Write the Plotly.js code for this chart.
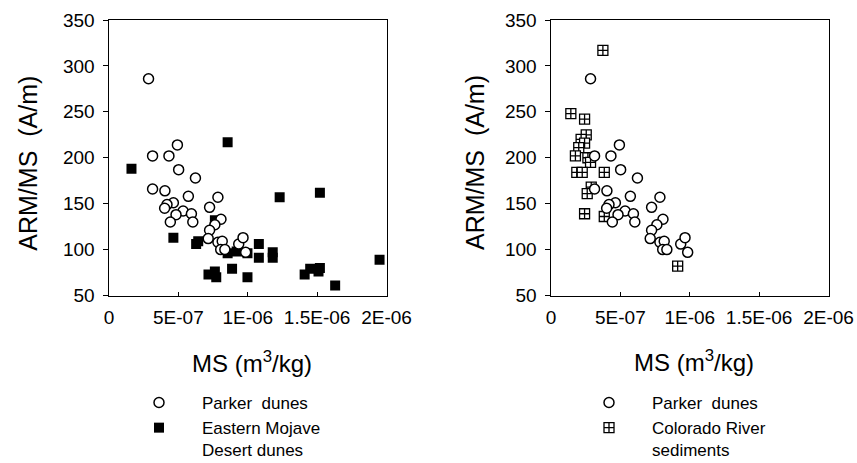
<!DOCTYPE html>
<html>
<head>
<meta charset="utf-8">
<script src="https://cdn.plot.ly/plotly-3.0.1.min.js"></script>
<style>html,body{margin:0;padding:0;background:#fff;}#chart{width:857px;height:463px;}</style>
</head>
<body>
<div id="chart"></div>
<script>
// Parker dunes (shown in both panels)
const parkerMS = [2.85e-7, 3.14e-7, 4.32e-7, 4.93e-7, 5.02e-7, 6.23e-7, 3.14e-7, 4.03e-7, 5.72e-7, 7.85e-7,
  7.25e-7, 4.64e-7, 4.18e-7, 4.01e-7, 5.34e-7, 5.94e-7, 4.83e-7, 4.42e-7, 6.04e-7, 8.07e-7,
  7.63e-7, 7.25e-7, 7.15e-7, 7.85e-7, 8.16e-7, 8.05e-7, 8.35e-7, 9.35e-7, 9.66e-7, 9.85e-7];
const parkerARM = [286, 202, 202, 214, 187, 178, 166, 164, 158, 157,
  146, 151, 149, 145, 142, 139, 138, 130, 130, 133,
  127, 121, 112, 108, 109, 100, 100, 106, 113, 97];

// Eastern Mojave Desert dunes (left panel)
const mojaveMS = [1.62e-7, 8.55e-7, 12.3e-7, 15.2e-7, 4.64e-7, 6.28e-7, 6.43e-7, 7.63e-7, 8.55e-7, 9.2e-7,
  9.98e-7, 10.8e-7, 10.8e-7, 11.8e-7, 11.8e-7, 19.5e-7, 7.17e-7, 7.63e-7, 7.73e-7, 8.87e-7,
  9.98e-7, 14.1e-7, 14.5e-7, 15.2e-7, 15.1e-7, 16.3e-7];
const mojaveARM = [188, 217, 157, 162, 113, 106, 109, 132, 96, 98,
  96, 106, 91, 97, 91, 89, 73, 76, 70, 79,
  70, 73, 79, 80, 76, 61];

// Colorado River sediments (right panel)
const coloradoMS = [3.74e-7, 1.43e-7, 2.42e-7, 2.54e-7, 2.17e-7, 2.42e-7, 2.0e-7, 1.76e-7, 2.66e-7, 2.85e-7,
  1.86e-7, 2.25e-7, 3.84e-7, 2.9e-7, 2.61e-7, 2.42e-7, 3.84e-7, 9.13e-7];
const coloradoARM = [317, 248, 242, 225, 220, 216, 211, 202, 200, 195,
  184, 184, 184, 168, 161, 139, 136, 82];

const xTickVals = [0, 5e-7, 1e-6, 1.5e-6, 2e-6];
const xTickText = ['0', '5E-07', '1E-06', '1.5E-06', '2E-06'];
const yTickVals = [50, 100, 150, 200, 250, 300, 350];

const FONT = '"Liberation Sans", Arial, Helvetica, sans-serif';

const traces = [
  {x: mojaveMS, y: mojaveARM, type: 'scatter', mode: 'markers', name: 'Eastern Mojave<br>Desert dunes',
   xaxis: 'x', yaxis: 'y', legend: 'legend', legendrank: 2, legendgroup: 'm',
   marker: {symbol: 'square', size: 10, color: '#000', line: {width: 0}}},
  {x: parkerMS, y: parkerARM, type: 'scatter', mode: 'markers', name: 'Parker  dunes',
   xaxis: 'x', yaxis: 'y', legend: 'legend', legendrank: 1, legendgroup: 'p',
   marker: {symbol: 'circle', size: 10, color: '#fff', line: {width: 1.5, color: '#000'}}},
  {x: coloradoMS, y: coloradoARM, type: 'scatter', mode: 'markers', name: 'Colorado River<br>sediments',
   xaxis: 'x2', yaxis: 'y2', legend: 'legend2', legendrank: 2, legendgroup: 'c',
   marker: {symbol: 'square-cross', size: 10, color: '#fff', line: {width: 1.3, color: '#000'}}},
  {x: parkerMS, y: parkerARM, type: 'scatter', mode: 'markers', name: 'Parker  dunes',
   xaxis: 'x2', yaxis: 'y2', legend: 'legend2', legendrank: 1, legendgroup: 'p2',
   marker: {symbol: 'circle', size: 10, color: '#fff', line: {width: 1.5, color: '#000'}}}
];

function xAx(domain, anchor) {
  return {domain: domain, anchor: anchor, range: [0, 2e-6], tickmode: 'array', tickvals: xTickVals, ticktext: xTickText,
    ticks: 'inside', ticklen: 4, tickwidth: 1, tickcolor: '#000', showline: true, mirror: true, linecolor: '#000', linewidth: 1.5,
    showgrid: false, zeroline: false, tickfont: {family: FONT, size: 19, color: '#000'}, ticklabelstandoff: 4, fixedrange: true,
    automargin: false};
}
function yAx(domain, anchor) {
  return {domain: domain, anchor: anchor, range: [50, 350], tickmode: 'array', tickvals: yTickVals,
    ticks: 'outside', ticklen: 5, tickwidth: 1, tickcolor: '#000', showline: true, mirror: true, linecolor: '#000', linewidth: 1.5,
    showgrid: false, zeroline: false, tickfont: {family: FONT, size: 19, color: '#000'}, ticklabelstandoff: 4, fixedrange: true,
    automargin: false};
}

const yDom = [1 - 295.5 / 463, 1 - 20 / 463];
const legendBase = {xanchor: 'left', yanchor: 'top', bgcolor: 'rgba(0,0,0,0)', itemwidth: 76,
  font: {family: FONT, size: 17, color: '#000'}, valign: 'top', traceorder: 'grouped', tracegroupgap: 0};
const layout = {
  width: 857, height: 463,
  margin: {l: 0, r: 0, t: 0, b: 0, autoexpand: false},
  paper_bgcolor: '#fff', plot_bgcolor: '#fff',
  font: {family: FONT, color: '#000'},
  xaxis: xAx([109 / 857, 386.5 / 857], 'y'),
  yaxis: yAx(yDom, 'x'),
  xaxis2: xAx([551 / 857, 828.5 / 857], 'y2'),
  yaxis2: yAx(yDom, 'x2'),
  legend: Object.assign({}, legendBase, {x: 116 / 857, y: 1 - 385 / 463}),
  legend2: Object.assign({}, legendBase, {x: 566 / 857, y: 1 - 385 / 463}),
  annotations: [
    {text: 'ARM/MS  (A/m)', xref: 'paper', yref: 'paper', x: 27.7 / 857, y: 1 - 163 / 463, xanchor: 'center', yanchor: 'middle',
     textangle: -90, showarrow: false, font: {family: FONT, size: 25, color: '#000'}},
    {text: 'ARM/MS  (A/m)', xref: 'paper', yref: 'paper', x: 475 / 857, y: 1 - 163 / 463, xanchor: 'center', yanchor: 'middle',
     textangle: -90, showarrow: false, font: {family: FONT, size: 25, color: '#000'}},
    {text: 'MS (m<sup>3</sup>/kg)', xref: 'paper', yref: 'paper', x: 251.5 / 857, y: 1 - 362 / 463, xanchor: 'center', yanchor: 'middle',
     showarrow: false, font: {family: FONT, size: 24, color: '#000'}},
    {text: 'MS (m<sup>3</sup>/kg)', xref: 'paper', yref: 'paper', x: 694 / 857, y: 1 - 361 / 463, xanchor: 'center', yanchor: 'middle',
     showarrow: false, font: {family: FONT, size: 24, color: '#000'}}
  ]
};

Plotly.newPlot('chart', traces, layout, {staticPlot: true, displayModeBar: false});
</script>
</body>
</html>
